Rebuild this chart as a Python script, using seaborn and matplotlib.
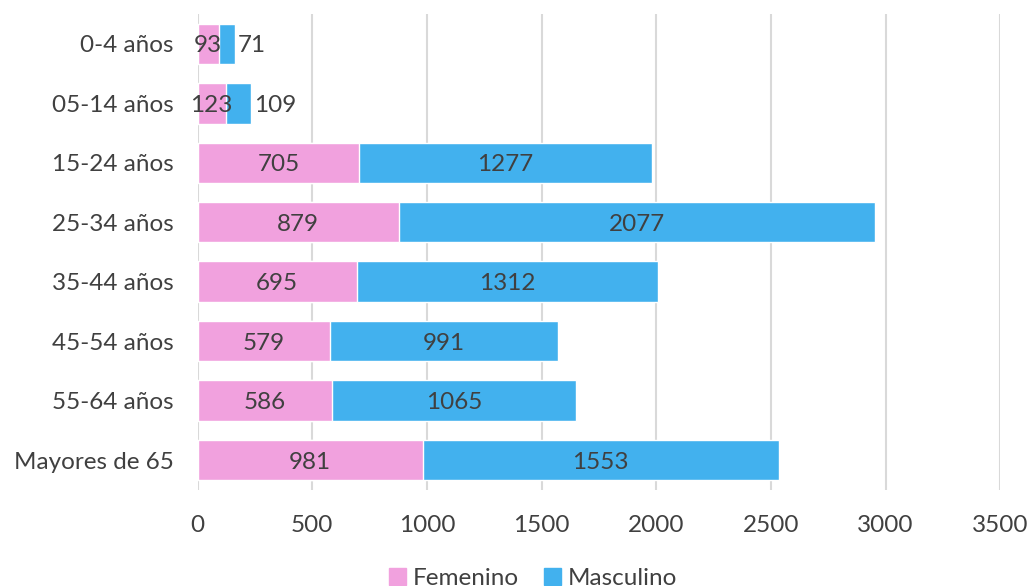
import numpy as np
import pandas as pd
import seaborn as sns
import matplotlib.pyplot as plt
from matplotlib.patches import Patch

# Data
categories = ['0-4 años', '05-14 años', '15-24 años', '25-34 años',
              '35-44 años', '45-54 años', '55-64 años', 'Mayores de 65']
femenino = [93, 123, 705, 879, 695, 579, 586, 981]
masculino = [71, 109, 1277, 2077, 1312, 991, 1065, 1553]

pink = '#F1A1DE'
blue = '#42B1EE'
text_col = '#404040'

df = pd.DataFrame({'grupo': categories, 'Femenino': femenino, 'Masculino': masculino})
df['total'] = df['Femenino'] + df['Masculino']

sns.set_style('white')
plt.rcParams['font.family'] = ['Lato', 'DejaVu Sans']
fs = 17.5

fig = plt.figure(figsize=(10.29, 5.86), dpi=100)
ax = fig.add_axes([0.192, 0.164, 0.780, 0.812])

# stacked bars: total in blue, femenino on top in pink
sns.barplot(data=df, x='total', y='grupo', color=blue, width=0.68,
            saturation=1, ax=ax, zorder=2)
sns.barplot(data=df, x='Femenino', y='grupo', color=pink, width=0.68,
            saturation=1, ax=ax, zorder=3)

for i, row in df.iterrows():
    ax.text(row['Femenino'] / 2, i, str(row['Femenino']), ha='center',
            va='center_baseline', fontsize=fs, color=text_col, zorder=4)
    if row['Masculino'] < 300:
        # too narrow: put the label just past the end of the bar
        ax.annotate(str(row['Masculino']), (row['total'], i), xytext=(2, 0),
                    textcoords='offset points', ha='left', va='center_baseline',
                    fontsize=fs, color=text_col, zorder=4)
    else:
        ax.text(row['Femenino'] + row['Masculino'] / 2, i, str(row['Masculino']),
                ha='center', va='center_baseline', fontsize=fs, color=text_col, zorder=4)

ax.set_xlim(0, 3500)
ax.set_xticks(np.arange(0, 3501, 500))
ax.xaxis.grid(True, color='#d9d9d9', linewidth=1.5, zorder=0)
ax.set_axisbelow(True)
ax.set_xlabel('')
ax.set_ylabel('')
ax.tick_params(axis='both', length=0, labelsize=fs, colors=text_col)
ax.tick_params(axis='x', pad=18)
ax.tick_params(axis='y', pad=17)
for s in ax.spines.values():
    s.set_visible(False)

handles = [Patch(color=pink, label='Femenino'), Patch(color=blue, label='Masculino')]
fig.legend(handles=handles, loc='center', bbox_to_anchor=(0.518, 0.012), ncol=2,
           frameon=False, fontsize=fs, handlelength=0.7, handleheight=0.7,
           handletextpad=0.3, columnspacing=1.0, labelcolor=text_col)

fig.savefig('out.png', dpi=100)
